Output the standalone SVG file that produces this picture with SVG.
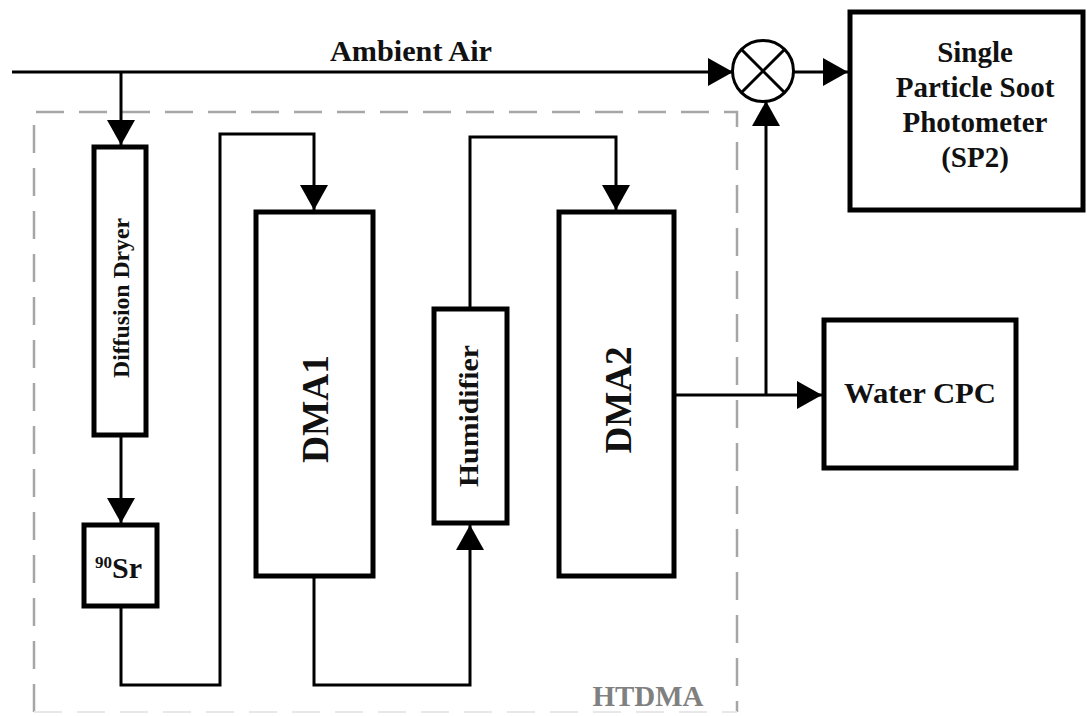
<svg xmlns="http://www.w3.org/2000/svg" width="1087" height="716" viewBox="0 0 1087 716">
<style>
.box{fill:#fff;stroke:#000;stroke-width:5}
.conn{fill:none;stroke:#000;stroke-width:3}
.arr{marker-end:url(#ah)}
.t{font-family:"Liberation Serif","Times New Roman",serif;font-weight:bold;fill:#111;text-anchor:middle}
.dash{fill:none;stroke:#a6a6a6;stroke-width:2.5;stroke-dasharray:28 15}
</style>
<defs>
<marker id="ah" viewBox="0 0 25 28" refX="25" refY="14" markerWidth="25" markerHeight="28" markerUnits="userSpaceOnUse" orient="auto">
<path d="M0,0 L25,14 L0,28 z" fill="#000"/>
</marker>
</defs>
<rect width="1087" height="716" fill="#fff"/>
<g id="htdma">
<path class="dash" d="M34,712 V112 H737 V712"/>
<path d="M34,712 H737" fill="none" stroke="#e8e8e8" stroke-width="2" stroke-dasharray="28 15"/>
<text class="t" x="648" y="706" font-size="29" fill="#808080" style="fill:#808080" textLength="111" lengthAdjust="spacingAndGlyphs">HTDMA</text>
</g>
<g id="connectors">
<path class="conn arr" d="M12,72 H733"/>
<path class="conn arr" d="M121,72 V145"/>
<path class="conn arr" d="M121,437 V523"/>
<path class="conn arr" d="M121,608 V685 H220 V134 H314 V210"/>
<path class="conn arr" d="M314,578 V685 H470 V525"/>
<path class="conn arr" d="M470,307 V137 H616 V210"/>
<path class="conn arr" d="M676,395 H822"/>
<path class="conn arr" d="M766,395 V101"/>
<path class="conn arr" d="M794,72 H848"/>
</g>
<text class="t" x="411" y="61" font-size="29" textLength="162" lengthAdjust="spacingAndGlyphs">Ambient Air</text>
<g id="mixer">
<circle cx="763" cy="71" r="30.5" fill="#fff" stroke="#000" stroke-width="3"/>
<path d="M741.5,49.5 L784.5,92.5 M784.5,49.5 L741.5,92.5" stroke="#000" stroke-width="3"/>
</g>
<g id="sp2">
<rect class="box" x="850" y="12" width="233" height="198"/>
<text class="t" font-size="29"><tspan x="975" y="62">Single</tspan><tspan x="975" y="97">Particle Soot</tspan><tspan x="975" y="132">Photometer</tspan><tspan x="975" y="167">(SP2)</tspan></text>
</g>
<g id="dryer">
<rect class="box" x="94" y="147" width="52" height="288"/>
<text class="t" transform="translate(121,298) rotate(-90)" y="8" font-size="23" textLength="160" lengthAdjust="spacingAndGlyphs">Diffusion Dryer</text>
</g>
<g id="sr90">
<rect class="box" x="84" y="525" width="73" height="81"/>
<text x="95" y="578" style="font-family:'Liberation Serif','Times New Roman',serif;font-weight:bold;fill:#111"><tspan font-size="17" dy="-10">90</tspan><tspan font-size="30" dy="10">Sr</tspan></text>
</g>
<g id="dma1">
<rect class="box" x="256" y="212" width="117" height="364"/>
<text class="t" transform="translate(316,409) rotate(-90)" y="12" font-size="37" textLength="108" lengthAdjust="spacingAndGlyphs">DMA1</text>
</g>
<g id="humidifier">
<rect class="box" x="434" y="309" width="73" height="214"/>
<text class="t" transform="translate(469,416) rotate(-90)" y="9" font-size="28" textLength="142" lengthAdjust="spacingAndGlyphs">Humidifier</text>
</g>
<g id="dma2">
<rect class="box" x="559" y="212" width="115" height="364"/>
<text class="t" transform="translate(619,400) rotate(-90)" y="12" font-size="37" textLength="107" lengthAdjust="spacingAndGlyphs">DMA2</text>
</g>
<g id="cpc">
<rect class="box" x="824" y="320" width="192" height="148"/>
<text class="t" x="920" y="403" font-size="29" textLength="152" lengthAdjust="spacingAndGlyphs">Water CPC</text>
</g>
</svg>
